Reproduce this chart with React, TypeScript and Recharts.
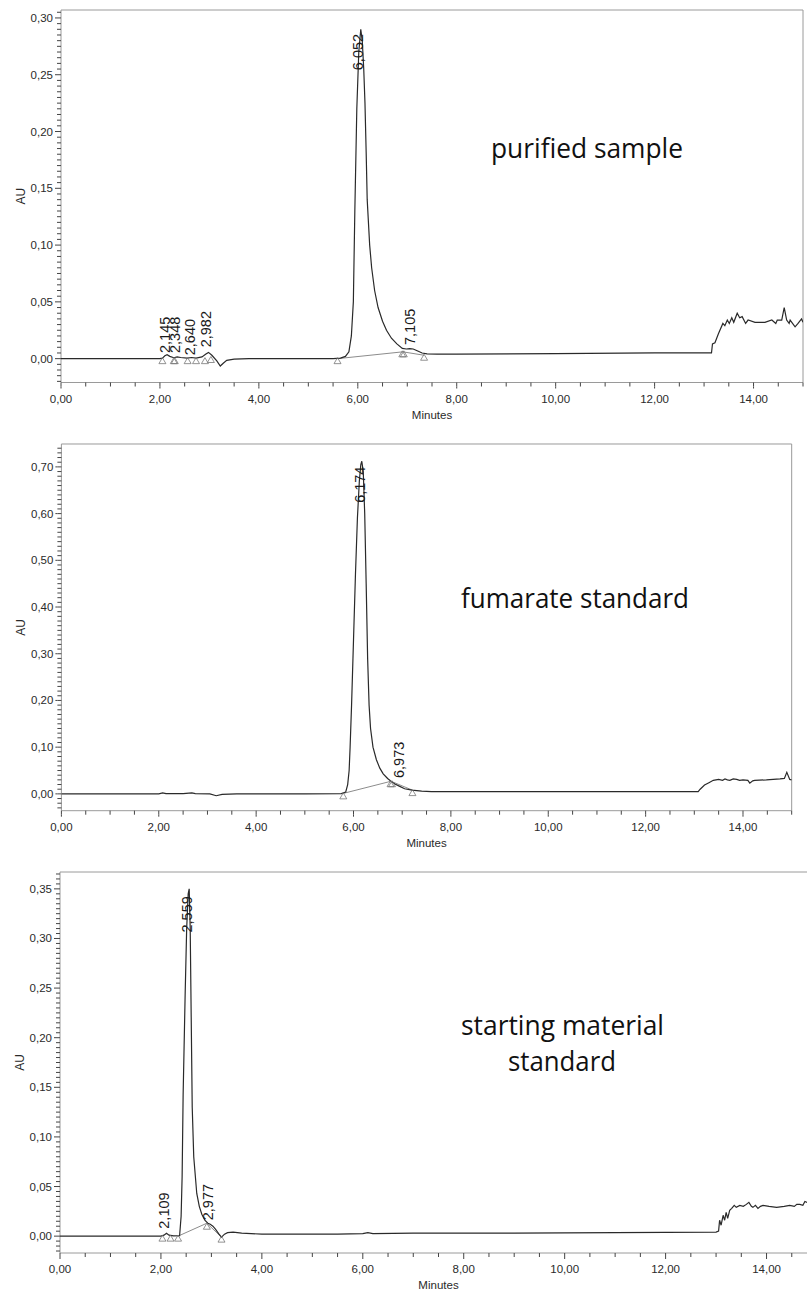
import React from 'react';
import { ComposedChart, Line, Scatter, XAxis, YAxis, ReferenceArea } from 'recharts';

const AXIS_FONT = "'Liberation Sans', Arial, sans-serif";
const NOTE_FONT = "'Open Sans', 'Noto Sans', sans-serif";

type Pt = { t: number; v: number };
type Peak = { t: number; v: number; label: string };
const pts = (rows: number[][]): Pt[] => rows.map(([t, v]) => ({ t, v }));

// ---- tick labels ----
const xMajorTicks = [0, 2, 4, 6, 8, 10, 12, 14];
const yMajorPurified = [0, 0.05, 0.1, 0.15, 0.2, 0.25, 0.3];
const yMajorFumarate = [0, 0.1, 0.2, 0.3, 0.4, 0.5, 0.6, 0.7];
const yMajorStarting = [0, 0.05, 0.1, 0.15, 0.2, 0.25, 0.3, 0.35];

// ---- purified sample ----
const purifiedTrace = pts([
  [0, 0], [1, 0], [2, 0], [2.05, 0.0005], [2.1, 0.0025], [2.145, 0.0035], [2.2, 0.002],
  [2.28, 0.0008], [2.348, 0.0015], [2.42, 0.001], [2.55, 0.0005], [2.64, 0.001], [2.73, 0.0005],
  [2.85, 0.0015], [2.93, 0.004], [2.982, 0.0055], [3.05, 0.003], [3.15, -0.002], [3.22, -0.0065],
  [3.28, -0.004], [3.35, -0.0015], [3.5, -0.0005], [3.8, 0], [4.5, 0], [5.0, 0], [5.5, 0],
  [5.65, 0.0005], [5.75, 0.002], [5.82, 0.006], [5.87, 0.02], [5.91, 0.05], [5.94, 0.13],
  [5.98, 0.22], [6.02, 0.27], [6.06, 0.29], [6.09, 0.28], [6.12, 0.255], [6.145, 0.225],
  [6.17, 0.18], [6.19, 0.14], [6.24, 0.1], [6.28, 0.08], [6.34, 0.06], [6.41, 0.045], [6.5, 0.033],
  [6.58, 0.025], [6.68, 0.018], [6.79, 0.013], [6.9, 0.009], [6.98, 0.0085], [7.05, 0.0088],
  [7.12, 0.0085], [7.2, 0.007], [7.3, 0.005], [7.4, 0.0042], [7.6, 0.004], [8, 0.004],
  [10, 0.0045], [12, 0.005], [13.15, 0.005], [13.17, 0.013], [13.22, 0.014], [13.29, 0.022],
  [13.38, 0.031], [13.42, 0.029], [13.47, 0.034], [13.51, 0.031], [13.56, 0.036], [13.6, 0.032],
  [13.67, 0.04], [13.72, 0.036], [13.77, 0.037], [13.84, 0.031], [13.89, 0.034], [14.03, 0.032],
  [14.23, 0.032], [14.37, 0.034], [14.45, 0.031], [14.48, 0.034], [14.57, 0.034], [14.62, 0.045],
  [14.67, 0.034], [14.72, 0.031], [14.74, 0.034], [14.84, 0.028], [14.9, 0.031], [14.97, 0.035],
  [15, 0.032],
]);
const purifiedBaselines = [
  pts([[5.59, 0], [6.91, 0.006]]),
  pts([[6.91, 0.006], [7.34, 0.003]]),
];
const purifiedMarks = pts([
  [2.05, 0], [2.28, 0], [2.3, 0], [2.56, 0], [2.73, 0], [2.91, 0], [3.03, 0.001],
  [5.59, 0], [6.9, 0.006], [6.93, 0.006], [7.34, 0.003],
]);
const purifiedPeaks: Peak[] = [
  { t: 2.145, v: 0.005, label: '2,145' },
  { t: 2.348, v: 0.005, label: '2,348' },
  { t: 2.64, v: 0.003, label: '2,640' },
  { t: 2.982, v: 0.01, label: '2,982' },
  { t: 6.052, v: 0.254, label: '6,052' },
  { t: 7.105, v: 0.012, label: '7,105' },
];

// ---- fumarate standard ----
const fumarateTrace = pts([
  [0, 0], [1, 0], [2, 0], [2.08, 0.002], [2.15, 0.0005], [2.5, 0.0005], [2.68, 0.002],
  [2.75, 0.0005], [3.05, 0], [3.18, -0.004], [3.3, -0.001], [3.6, 0], [5, 0], [5.75, 0.0005],
  [5.84, 0.004], [5.88, 0.02], [5.91, 0.05], [5.93, 0.1], [5.96, 0.19], [6.0, 0.33], [6.04, 0.47],
  [6.08, 0.59], [6.12, 0.67], [6.15, 0.705], [6.17, 0.712], [6.2, 0.69], [6.23, 0.6], [6.26, 0.45],
  [6.29, 0.29], [6.32, 0.19], [6.35, 0.14], [6.4, 0.1], [6.47, 0.073], [6.54, 0.055], [6.61, 0.043],
  [6.7, 0.033], [6.77, 0.027], [6.85, 0.021], [6.95, 0.016], [7.05, 0.011], [7.2, 0.008],
  [7.4, 0.006], [7.6, 0.005], [8, 0.005], [13.08, 0.005], [13.12, 0.01], [13.21, 0.019],
  [13.3, 0.024], [13.39, 0.029], [13.5, 0.031], [13.58, 0.029], [13.63, 0.032], [13.68, 0.03],
  [13.73, 0.029], [13.8, 0.032], [13.87, 0.031], [13.93, 0.029], [14, 0.03], [14.1, 0.029],
  [14.14, 0.023], [14.2, 0.028], [14.24, 0.029], [14.48, 0.03], [14.76, 0.032], [14.85, 0.033],
  [14.9, 0.046], [14.96, 0.031], [15, 0.03],
]);
const fumarateBaselines = [
  pts([[5.79, 0.001], [6.77, 0.027]]),
  pts([[6.77, 0.027], [7.21, 0.008]]),
];
const fumarateMarks = pts([[5.79, 0], [6.76, 0.026], [6.79, 0.026], [7.21, 0.007]]);
const fumaratePeaks: Peak[] = [
  { t: 6.174, v: 0.623, label: '6,174' },
  { t: 6.973, v: 0.034, label: '6,973' },
];

// ---- starting material standard ----
const startingTrace = pts([
  [0, 0], [1, 0], [2, 0], [2.06, 0.001], [2.11, 0.003], [2.16, 0.001], [2.25, 0.0003],
  [2.37, 0.0005], [2.4, 0.02], [2.42, 0.06], [2.44, 0.143], [2.48, 0.244], [2.51, 0.31],
  [2.54, 0.345], [2.56, 0.35], [2.58, 0.31], [2.6, 0.22], [2.62, 0.13], [2.65, 0.08],
  [2.71, 0.043], [2.76, 0.03], [2.81, 0.022], [2.87, 0.016], [2.93, 0.013], [2.977, 0.012],
  [3.03, 0.01], [3.08, 0.007], [3.15, 0.002], [3.2, -0.001], [3.26, 0.002], [3.32, 0.0035],
  [3.43, 0.004], [3.6, 0.003], [4, 0.002], [5.5, 0.002], [6, 0.0025], [6.1, 0.0035],
  [6.2, 0.0025], [7, 0.003], [9, 0.003], [11, 0.0035], [13, 0.004], [13.05, 0.005],
  [13.07, 0.016], [13.1, 0.011], [13.14, 0.021], [13.17, 0.016], [13.2, 0.024], [13.23, 0.018],
  [13.27, 0.026], [13.31, 0.028], [13.36, 0.031], [13.4, 0.029], [13.47, 0.031], [13.54, 0.03],
  [13.6, 0.032], [13.65, 0.034], [13.7, 0.03], [13.73, 0.029], [13.78, 0.031], [13.83, 0.028],
  [13.88, 0.03], [13.93, 0.031], [14.05, 0.03], [14.2, 0.029], [14.35, 0.03], [14.46, 0.031],
  [14.55, 0.03], [14.6, 0.032], [14.66, 0.032], [14.72, 0.031], [14.76, 0.035], [14.85, 0.033],
  [15, 0.033],
]);
const startingBaselines = [
  pts([[2.34, 0], [2.91, 0.013]]),
  pts([[2.91, 0.013], [3.2, -0.001]]),
];
const startingMarks = pts([[2.03, 0], [2.19, 0], [2.34, 0], [2.91, 0.012], [3.2, -0.001]]);
const startingPeaks: Peak[] = [
  { t: 2.109, v: 0.0075, label: '2,109' },
  { t: 2.559, v: 0.306, label: '2,559' },
  { t: 2.977, v: 0.016, label: '2,977' },
];

const fmt = (v: number) => v.toFixed(2).replace('.', ',');
const isMajor = (list: number[], v: number) => list.some((m) => Math.abs(m - v) < 1e-6);
const steps = (from: number, to: number, step: number) => {
  const out: number[] = [];
  const n = Math.round((to - from) / step);
  for (let i = 0; i <= n; i++) out.push(Number((from + i * step).toFixed(4)));
  return out;
};
const xMinorTicks = steps(0, 15, 0.5);

type Box = { left: number; right: number; top: number; bottom: number };
type PanelProps = {
  box: Box;
  yDomain: [number, number];
  yMajor: number[];
  yTicks: number[];
  trace: Pt[];
  baselines: Pt[][];
  marks: Pt[];
  peaks: Peak[];
};

const TICK = '#444';

function Triangle(p: any) {
  const { cx, cy } = p;
  if (cx == null || cy == null) return null;
  return (
    <path
      d={`M${cx},${cy - 1} L${cx + 3.5},${cy + 5} L${cx - 3.5},${cy + 5} Z`}
      fill="none"
      stroke="#777"
      strokeWidth={0.8}
    />
  );
}

function PeakLabel(p: any) {
  const { cx, cy, payload } = p;
  if (cx == null || cy == null) return null;
  return (
    <text
      x={cx}
      y={cy}
      dy={-2}
      transform={`rotate(-90 ${cx} ${cy})`}
      textAnchor="start"
      dominantBaseline="central"
      fontFamily={AXIS_FONT}
      fontSize={14.5}
      fill="#1a1a1a"
    >
      {payload.label}
    </text>
  );
}

function Chromatogram({ box, yDomain, yMajor, yTicks, trace, baselines, marks, peaks }: PanelProps) {
  const padTop = 10;
  const axisH = 45;
  const width = box.right + 4;
  const height = box.bottom - box.top + padTop + axisH;

  // tick lines come from the axis itself (4px); majors get a 2px extension and a label
  const yTick = (p: any) => {
    const { x, y, payload } = p;
    if (!isMajor(yMajor, payload.value)) return <g />;
    return (
      <g>
        <line x1={x + 2} x2={x + 4} y1={y} y2={y} stroke={TICK} strokeWidth={1} />
        <text x={x} y={y} textAnchor="end" dominantBaseline="central" fontFamily={AXIS_FONT} fontSize={11.5} fill="#2a2a2a">
          {fmt(payload.value)}
        </text>
      </g>
    );
  };

  const xTick = (p: any) => {
    const { x, y, payload } = p;
    if (!isMajor(xMajorTicks, payload.value)) return <g />;
    return (
      <g>
        <line x1={x} x2={x} y1={y - 4} y2={y - 2} stroke={TICK} strokeWidth={1} />
        <text x={x} y={y + 12} textAnchor="middle" fontFamily={AXIS_FONT} fontSize={11.5} fill="#2a2a2a">
          {fmt(payload.value)}
        </text>
      </g>
    );
  };

  const minutesLabel = (p: any) => {
    const vb = p.viewBox;
    return (
      <text x={box.left + (box.right - box.left) / 2} y={vb.y + 36} textAnchor="middle" fontFamily={AXIS_FONT} fontSize={11.5} fill="#2a2a2a">
        Minutes
      </text>
    );
  };

  const auLabel = (p: any) => {
    const vb = p.viewBox;
    const cx = box.left - 40;
    const cy = vb.y + vb.height / 2;
    return (
      <text x={cx} y={cy} transform={`rotate(-90 ${cx} ${cy})`} textAnchor="middle" dominantBaseline="central" fontFamily={AXIS_FONT} fontSize={12} fill="#2a2a2a">
        AU
      </text>
    );
  };

  return (
    <div style={{ position: 'absolute', left: 0, top: box.top - padTop }}>
      <ComposedChart width={width} height={height} margin={{ top: padTop, right: 4, bottom: 0, left: 0 }}>
        <XAxis
          type="number"
          dataKey="t"
          domain={[0, 15]}
          ticks={xMinorTicks}
          interval={0}
          allowDataOverflow
          height={axisH}
          axisLine={false}
          tickLine={{ stroke: TICK, strokeWidth: 1 }}
          tickSize={4}
          tickMargin={4}
          tick={xTick}
          label={{ content: minutesLabel }}
        />
        <YAxis
          type="number"
          dataKey="v"
          domain={yDomain}
          ticks={yTicks}
          interval={0}
          allowDataOverflow
          width={box.left}
          axisLine={false}
          tickLine={{ stroke: TICK, strokeWidth: 1 }}
          tickSize={4}
          tickMargin={4}
          tick={yTick}
          label={{ content: auLabel }}
        />
        <ReferenceArea x1={0} x2={15} y1={yDomain[0]} y2={yDomain[1]} fill="none" stroke="#9a9a9a" strokeWidth={1} ifOverflow="visible" />
        {baselines.map((seg, i) => (
          <Line key={`b${i}`} data={seg} dataKey="v" type="linear" stroke="#8c8c8c" strokeWidth={1} dot={false} isAnimationActive={false} />
        ))}
        <Line data={trace} dataKey="v" type="linear" stroke="#2a2a2a" strokeWidth={1.2} dot={false} isAnimationActive={false} />
        <Scatter data={marks} dataKey="v" shape={Triangle} isAnimationActive={false} />
        <Scatter data={peaks} dataKey="v" shape={PeakLabel} isAnimationActive={false} />
      </ComposedChart>
    </div>
  );
}

const notes = [
  { text: 'purified sample', x: 491, y: 158, w: 192 },
  { text: 'fumarate standard', x: 461, y: 608, w: 228 },
  { text: 'starting material', x: 461, y: 1035, w: 203 },
  { text: 'standard', x: 508, y: 1071, w: 108 },
];

export default function App() {
  return (
    <div style={{ position: 'absolute', left: 0, top: 0, width: 807, height: 1295, overflow: 'hidden', background: '#fff' }}>
      <Chromatogram
        box={{ left: 61, right: 803, top: 9.5, bottom: 382 }}
        yDomain={[-0.021, 0.307]}
        yMajor={yMajorPurified}
        yTicks={steps(-0.02, 0.305, 0.005)}
        trace={purifiedTrace}
        baselines={purifiedBaselines}
        marks={purifiedMarks}
        peaks={purifiedPeaks}
      />
      <Chromatogram
        box={{ left: 61.4, right: 791.7, top: 444.3, bottom: 811 }}
        yDomain={[-0.036, 0.749]}
        yMajor={yMajorFumarate}
        yTicks={steps(-0.03, 0.74, 0.01)}
        trace={fumarateTrace}
        baselines={fumarateBaselines}
        marks={fumarateMarks}
        peaks={fumaratePeaks}
      />
      <Chromatogram
        box={{ left: 60, right: 817, top: 871.7, bottom: 1252.7 }}
        yDomain={[-0.017, 0.367]}
        yMajor={yMajorStarting}
        yTicks={steps(-0.015, 0.365, 0.005)}
        trace={startingTrace}
        baselines={startingBaselines}
        marks={startingMarks}
        peaks={startingPeaks}
      />
      <svg width={807} height={1295} style={{ position: 'absolute', left: 0, top: 0, pointerEvents: 'none' }}>
        {notes.map((n) => (
          <text key={n.text} x={n.x} y={n.y} textLength={n.w} lengthAdjust="spacingAndGlyphs" fontFamily={NOTE_FONT} fontSize={28} fill="#111">
            {n.text}
          </text>
        ))}
      </svg>
    </div>
  );
}
